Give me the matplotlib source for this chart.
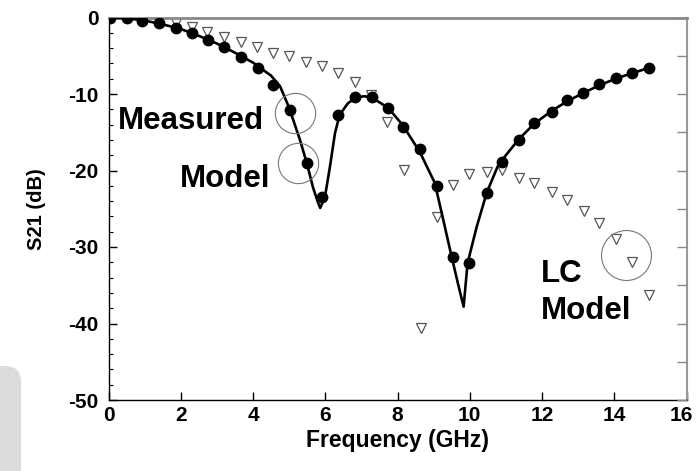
import matplotlib

matplotlib.use("Agg")
import matplotlib.pyplot as plt
import matplotlib.transforms as mtransforms
from matplotlib.patches import FancyBboxPatch
from matplotlib.ticker import MultipleLocator

plt.rcParams["font.family"] = ["Liberation Sans", "DejaVu Sans"]
plt.rcParams["font.weight"] = "bold"
plt.rcParams["axes.unicode_minus"] = False

# measured S21 (filled circles)
meas_f = [0.04, 0.51, 0.93, 1.40, 1.87, 2.31, 2.75, 3.20, 3.67, 4.13, 4.55, 5.02,
          5.49, 5.90, 6.35, 6.82, 7.29, 7.74, 8.15, 8.62, 9.08, 9.53, 9.97, 10.47,
          10.89, 11.36, 11.78, 12.27, 12.68, 13.13, 13.57, 14.04, 14.48, 14.95]
meas_db = [0.0, -0.1, -0.4, -0.7, -1.4, -2.0, -2.9, -3.9, -5.2, -6.6, -8.8, -12.1,
           -19.0, -23.5, -12.7, -10.4, -10.4, -11.8, -14.3, -17.2, -22.0, -31.3, -32.1, -22.9,
           -18.9, -16.0, -13.8, -12.4, -10.8, -9.9, -8.7, -7.9, -7.3, -6.6]

# model (solid line)
model_f = [0.0, 0.5, 1.0, 1.5, 2.0, 2.5, 3.0, 3.5, 4.0, 4.5, 4.75, 5.0, 5.3, 5.5,
           5.66, 5.8, 5.86, 5.99, 6.13, 6.27, 6.4, 6.63, 6.87, 7.1, 7.3, 7.74, 8.15,
           8.62, 9.03, 9.25, 9.5, 9.67, 9.83, 9.94, 10.19, 10.47, 10.77, 11.0, 11.36,
           11.78, 12.27, 12.68, 13.13, 13.57, 14.04, 14.48, 14.95]
model_db = [0.0, -0.1, -0.4, -0.9, -1.5, -2.4, -3.4, -4.6, -5.9, -7.6, -9.0, -11.8, -16.0, -19.2,
            -22.2, -24.2, -24.9, -23.5, -19.5, -15.1, -12.7, -11.2, -10.4, -10.3, -10.5, -11.8, -14.1,
            -17.6, -21.6, -26.1, -31.3, -34.7, -37.8, -32.1, -27.4, -22.9, -19.5, -18.0, -15.9,
            -13.9, -12.2, -11.0, -9.9, -8.9, -8.0, -7.3, -6.6]

# LC model (open triangles)
lc_f = [0.04, 0.51, 0.93, 1.40, 1.87, 2.30, 2.73, 3.20, 3.68, 4.10, 4.56, 5.00, 5.48,
        5.92, 6.36, 6.82, 7.28, 7.71, 8.17, 8.64, 9.08, 9.53, 9.97, 10.47, 10.89, 11.36,
        11.77, 12.27, 12.68, 13.15, 13.57, 14.04, 14.48, 14.95]
lc_db = [0.0, -0.05, -0.2, -0.4, -0.7, -1.2, -1.9, -2.6, -3.2, -3.8, -4.6, -5.0, -5.8,
         -6.4, -7.2, -8.4, -10.1, -13.6, -19.9, -40.6, -26.1, -21.9, -20.5, -20.2, -19.9, -21.0,
         -21.6, -22.8, -23.9, -25.3, -26.9, -29.0, -32.0, -36.3]

x_ticks = [0, 2, 4, 6, 8, 10, 12, 14, 16]
y_ticks = [0, -10, -20, -30, -40, -50]

fig = plt.figure(figsize=(6.96, 4.71), dpi=100)
fig.patches.append(FancyBboxPatch((-30, -30), 51, 135, boxstyle="round,pad=0,rounding_size=16",
                                  transform=None, facecolor="#dcdcdc", edgecolor="none", zorder=0))
ax = fig.add_axes([108.5 / 696, 71 / 471, 578 / 696, 382.5 / 471])
ax.patch.set_alpha(0)

ax.plot(lc_f, lc_db, linestyle="none", marker="v", markersize=7, markerfacecolor="white",
        markeredgecolor="#555555", markeredgewidth=0.9, zorder=2)
ax.plot(model_f, model_db, color="black", linewidth=1.9, zorder=3)
ax.plot(meas_f, meas_db, linestyle="none", marker="o", markersize=7.5, color="black", zorder=4)

# annotation rings
for cx, cy, d in [(5.16, -12.5, 29), (5.24, -19.0, 29), (14.32, -31.0, 36)]:
    ax.plot([cx], [cy], marker="o", markersize=d, markerfacecolor="none",
            markeredgecolor="#777777", markeredgewidth=0.8, zorder=5)

ax.text(0.25, -14.6, "Measured", fontsize=22.5, fontweight="bold", va="baseline")
ax.text(1.98, -22.2, "Model", fontsize=22.5, fontweight="bold", va="baseline")
ax.text(11.96, -34.6, "LC", fontsize=22.5, fontweight="bold", va="baseline")
ax.text(11.96, -39.4, "Model", fontsize=22.5, fontweight="bold", va="baseline")

ax.set_xlim(0, 16)
ax.set_ylim(-50, 0)
ax.set_xticks(x_ticks)
ax.set_yticks(y_ticks)
ax.yaxis.set_minor_locator(MultipleLocator(2))
ax.tick_params(axis="x", direction="in", length=6, width=1, labelsize=15, pad=4)
ax.tick_params(axis="y", which="major", direction="in", length=6, width=1, labelsize=15, pad=7)
ax.tick_params(axis="y", which="minor", direction="in", length=3, width=0.8)
for lbl in ax.get_xticklabels() + ax.get_yticklabels():
    lbl.set_fontweight("bold")

# nudge the last x label so it stays inside the picture
last = ax.get_xticklabels()[-1]
last.set_transform(last.get_transform() + mtransforms.ScaledTranslation(-5 / 100, 0, fig.dpi_scale_trans))

# right-hand ticks every 5 dB
ax2 = ax.twinx()
ax2.set_ylim(-50, 0)
ax2.yaxis.set_major_locator(MultipleLocator(5))
ax2.tick_params(axis="y", direction="in", length=7, width=1, labelright=False, color="#888888")
for side in ["left", "right", "top", "bottom"]:
    ax2.spines[side].set_visible(False)

ax.spines["top"].set_color("#888888")
ax.spines["top"].set_linewidth(2)
ax.spines["right"].set_color("#999999")
ax.spines["right"].set_linewidth(1.5)
ax.spines["left"].set_linewidth(1)
ax.spines["bottom"].set_linewidth(1)

ax.set_xlabel("Frequency (GHz)", fontsize=16.5, fontweight="bold", labelpad=3)
ax.set_ylabel("S21 (dB)", fontsize=14.5, fontweight="bold", labelpad=16)

fig.savefig("out.png", dpi=100)
